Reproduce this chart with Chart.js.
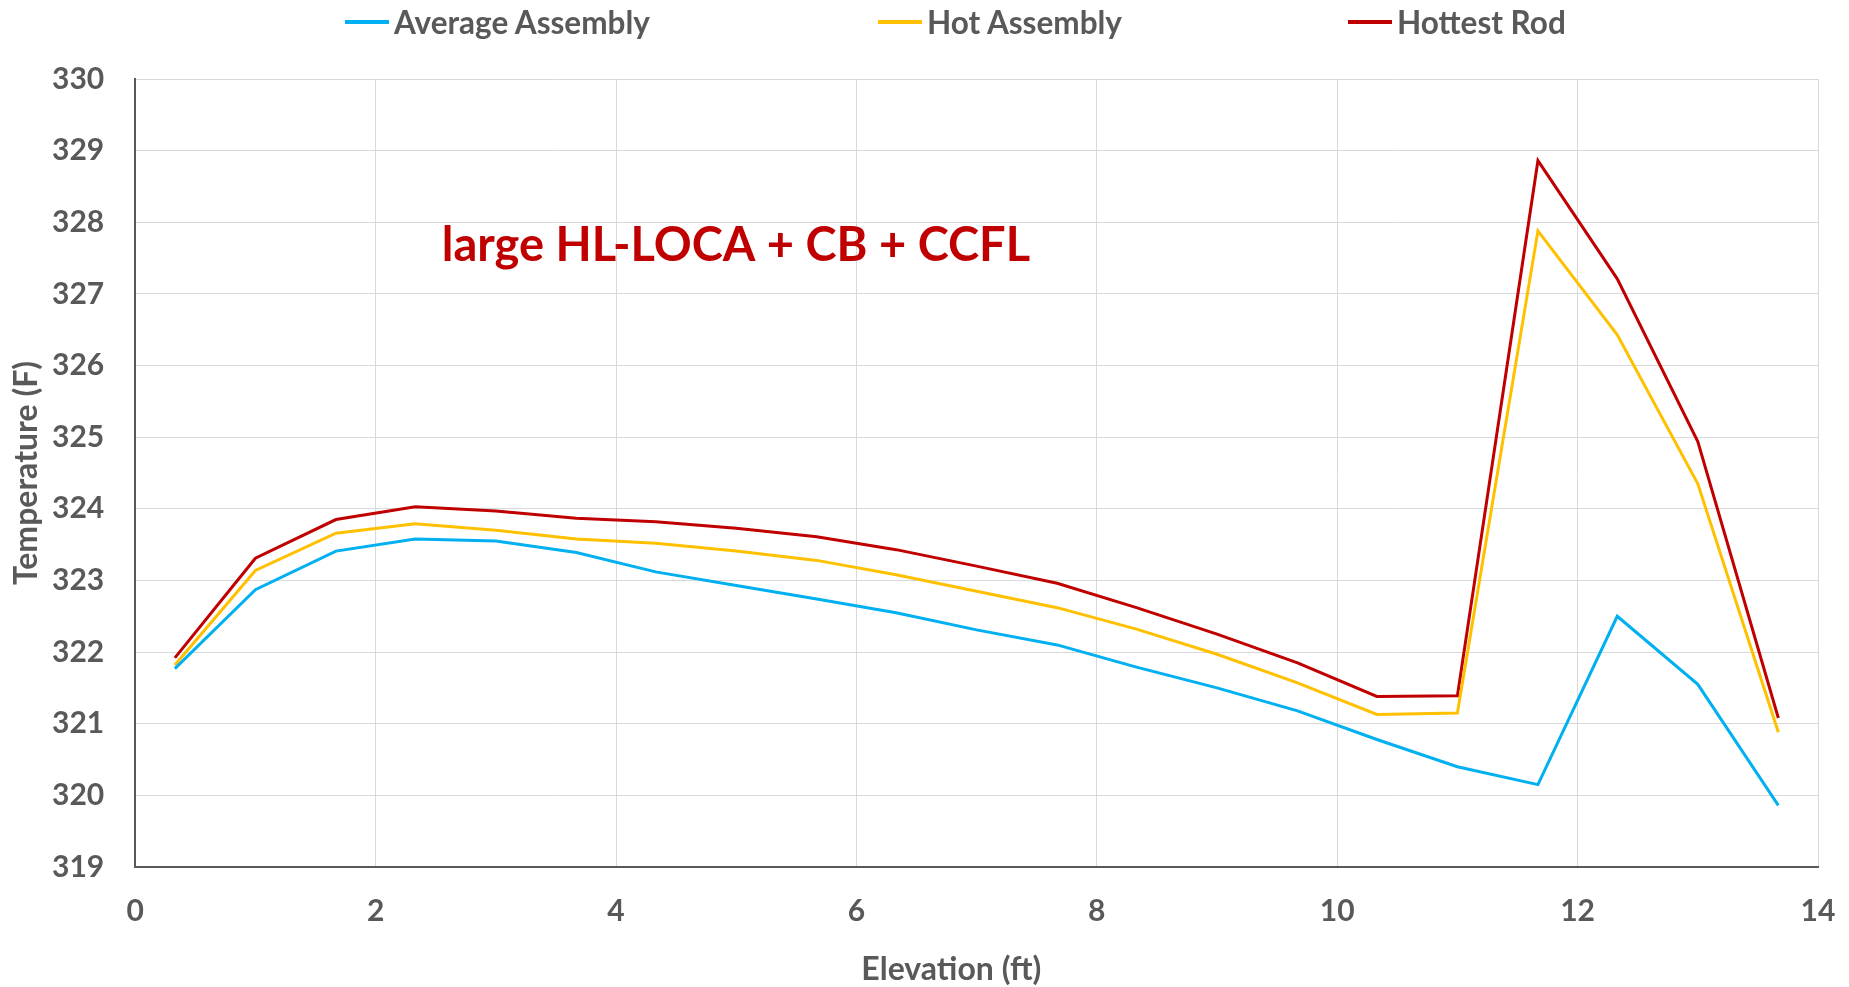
<!DOCTYPE html>
<html>
<head>
<meta charset="utf-8">
<script src="https://cdn.jsdelivr.net/npm/chart.js@4.4.1/dist/chart.umd.min.js"></script>
<style>
  html, body { margin: 0; padding: 0; background: #fff; overflow: hidden; }
  .wrap { position: relative; width: 1849px; height: 987px; }
  canvas { display: block; }
  .legend { position: absolute; top: 0; left: 0; width: 100%; height: 44px; font-family: Lato, sans-serif; font-weight: 700; font-size: 31.5px; color: #595959; }
  .legend-item { position: absolute; top: 3px; display: flex; align-items: center; }
  .legend-line { width: 44px; height: 4px; margin-right: 5px; }
</style>
</head>
<body>
<div class="wrap">
  <canvas id="profileChart"></canvas>
  <div class="legend" id="chartLegend"></div>
</div>
<script>
// ── Axial temperature profile data ───────────────────────────────────────
const elevations = [0.33, 1.0, 1.67, 2.33, 3.0, 3.67, 4.33, 5.0, 5.67, 6.33, 7.0,
  7.67, 8.33, 9.0, 9.67, 10.33, 11.0, 11.67, 12.33, 13.0, 13.67];

const averageAssembly = [321.77, 322.87, 323.41, 323.58, 323.55, 323.39, 323.12, 322.93,
  322.74, 322.55, 322.31, 322.10, 321.79, 321.50, 321.18, 320.78, 320.40, 320.15,
  322.50, 321.55, 319.86];

const hotAssembly = [321.82, 323.14, 323.66, 323.79, 323.70, 323.58, 323.52, 323.41,
  323.28, 323.08, 322.85, 322.62, 322.32, 321.97, 321.57, 321.13, 321.15, 327.88,
  326.43, 324.35, 320.88];

const hottestRod = [321.92, 323.31, 323.85, 324.03, 323.97, 323.87, 323.82, 323.73,
  323.61, 323.43, 323.20, 322.96, 322.62, 322.25, 321.85, 321.38, 321.39, 328.86,
  327.21, 324.94, 321.08];

const xTicks = [0, 2, 4, 6, 8, 10, 12, 14];
const yTicks = [319, 320, 321, 322, 323, 324, 325, 326, 327, 328, 329, 330];

const series = [
  { label: "Average Assembly", color: "#00B0F0", data: averageAssembly },
  { label: "Hot Assembly", color: "#FFC000", data: hotAssembly },
  { label: "Hottest Rod", color: "#C00000", data: hottestRod },
];

const caseLabel = "large HL-LOCA + CB + CCFL";
const caseLabelAt = { x: 2.55, y: 327.46 }; // left/baseline, in data units
const xTitle = "Elevation (ft)";
const xTitleCenter = 6.79; // Excel puts it a bit left of the plot centre

const FONT = "Lato, 'Open Sans', sans-serif";
const TEXT = "#595959";

const datasets = series.map((s) => ({
  label: s.label,
  data: elevations.map((x, i) => ({ x, y: s.data[i] })),
  borderColor: s.color,
  backgroundColor: s.color,
  borderWidth: 3,
  pointRadius: 0,
  tension: 0,
}));

// red case label inside the plot + the x axis title
const textPlugin = {
  id: "extraText",
  afterDatasetsDraw(chart) {
    const { ctx, scales } = chart;
    ctx.save();
    ctx.font = `700 47px ${FONT}`;
    ctx.fillStyle = "#C00000";
    ctx.textAlign = "left";
    ctx.textBaseline = "alphabetic";
    ctx.fillText(caseLabel, scales.x.getPixelForValue(caseLabelAt.x), scales.y.getPixelForValue(caseLabelAt.y));

    ctx.font = `700 32px ${FONT}`;
    ctx.fillStyle = TEXT;
    ctx.textAlign = "center";
    ctx.textBaseline = "middle";
    ctx.fillText(xTitle, scales.x.getPixelForValue(xTitleCenter), scales.x.bottom - 17);
    ctx.restore();
  },
};

const ctx = document.getElementById("profileChart").getContext("2d");
new Chart(ctx, {
  type: "line",
  data: { datasets },
  plugins: [textPlugin],
  options: {
    responsive: true,
    maintainAspectRatio: false,
    animation: false,
    layout: { padding: { left: 7, top: 79, right: 31, bottom: 0 } },
    plugins: {
      legend: { display: false }, // HTML legend below
      tooltip: { enabled: false },
    },
    scales: {
      x: {
        type: "linear",
        min: 0,
        max: 14,
        afterBuildTicks: (axis) => { axis.ticks = xTicks.map((v) => ({ value: v })); },
        // tick padding would otherwise be added to the right overhang too
        afterFit: (axis) => { axis.paddingRight = 0; },
        grid: { color: "#d9d9d9", lineWidth: 1, drawTicks: false },
        border: { color: "#595959", width: 2 },
        ticks: { color: TEXT, padding: 26, font: { family: FONT, size: 30, weight: "700" } },
        // title only reserves the space, the text is drawn by extraText
        title: {
          display: true,
          text: xTitle,
          color: "rgba(0,0,0,0)",
          font: { family: FONT, size: 32, weight: "700" },
          padding: { top: -4.4, bottom: -2 },
        },
      },
      y: {
        type: "linear",
        min: 319,
        max: 330,
        afterBuildTicks: (axis) => { axis.ticks = yTicks.map((v) => ({ value: v })); },
        grid: { color: "#d9d9d9", lineWidth: 1, drawTicks: false },
        border: { color: "#595959", width: 2 },
        ticks: { color: TEXT, padding: 31, font: { family: FONT, size: 30, weight: "700" } },
        title: {
          display: true,
          text: "Temperature (F)",
          color: TEXT,
          font: { family: FONT, size: 32, weight: "700" },
          padding: { top: 0, bottom: -24.4 },
        },
      },
    },
  },
});

// ── Build custom legend ──────────────────────────────────────────────────
const legendLeft = [345, 878, 1348];
const legendEl = document.getElementById("chartLegend");
series.forEach((s, i) => {
  const item = document.createElement("div");
  item.className = "legend-item";
  item.style.left = legendLeft[i] + "px";
  item.innerHTML = `
    <div class="legend-line" style="background:${s.color}"></div>
    <span>${s.label}</span>
  `;
  legendEl.appendChild(item);
});
</script>
</body>
</html>
